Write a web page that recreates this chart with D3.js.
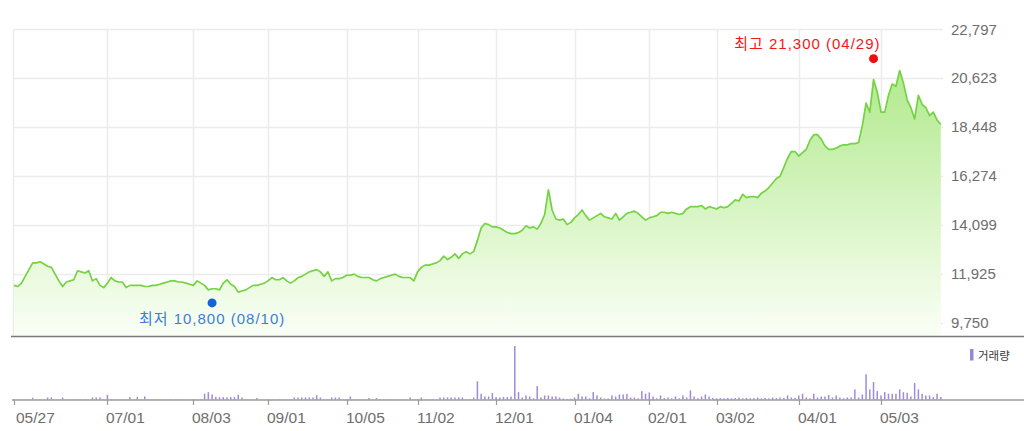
<!DOCTYPE html>
<html>
<head>
<meta charset="utf-8">
<script src="https://cdn.jsdelivr.net/npm/d3@7"></script>
<style>
  html, body { margin: 0; padding: 0; background: #fff; }
  svg { display: block; }
</style>
</head>
<body>
<svg id="chart" width="1024" height="431"></svg>
<script>
// ---------- DATA ----------
const prices = [
11400,11350,11500,11800,12100,12400,12400,12450,12350,12250,
12200,11900,11600,11350,11550,11600,11650,12050,12000,11950,
12050,11600,11700,11400,11300,11500,11750,11600,11550,11550,
11300,11400,11400,11400,11400,11350,11350,11400,11400,11450,
11500,11550,11600,11600,11550,11550,11500,11450,11400,11600,
11500,11400,11200,11250,11250,11200,11500,11650,11450,11350,
11100,11150,11200,11300,11400,11400,11450,11500,11600,11750,
11650,11650,11750,11600,11500,11600,11750,11800,11900,12000,
12050,12100,12000,11800,12000,11600,11700,11700,11750,11850,
11850,11900,11800,11750,11750,11750,11650,11600,11700,11750,
11800,11850,11900,11800,11750,11750,11750,11600,12000,12200,
12300,12300,12350,12400,12500,12700,12550,12650,12800,12600,
12800,12900,12800,12900,13400,13950,14150,14100,14000,14000,
13950,13850,13750,13700,13700,13750,13850,14050,13950,14000,
13900,14150,14550,15650,14750,14350,14300,14350,14100,14200,
14400,14550,14750,14500,14300,14400,14500,14600,14450,14400,
14350,14600,14300,14450,14600,14650,14700,14600,14450,14300,
14400,14450,14500,14650,14650,14600,14650,14600,14550,14600,
14800,14900,14900,14900,14950,14800,14900,14850,14800,14900,
14850,14900,15050,15200,15150,15450,15300,15350,15350,15300,
15500,15600,15750,15950,16150,16250,16650,17050,17350,17350,
17150,17300,17450,17850,18100,18100,17900,17600,17450,17450,
17500,17600,17650,17650,17700,17700,17750,18500,19500,19100,
20550,20000,19100,19100,19850,20350,20250,20950,20400,19650,
19300,18800,19850,19450,19300,18950,19100,18750,18550
];

// volume, thousand shares
const volumes = [
20,10,15,10,20,85,15,10,20,100,
100,15,10,100,15,10,20,15,10,20,
15,100,100,100,20,235,20,15,10,20,
15,120,20,120,15,150,20,10,15,20,
10,15,20,10,15,20,10,15,20,15,
20,285,365,250,130,110,120,110,120,120,
235,100,20,15,20,75,15,10,20,15,
10,20,15,10,20,100,100,100,100,100,
100,215,100,20,15,100,100,100,20,15,
150,20,15,10,20,75,15,75,20,10,
15,20,10,15,20,15,100,20,15,100,
20,15,20,10,100,100,100,100,100,100,
100,20,30,100,900,285,150,150,315,120,
100,130,120,140,2650,365,100,200,150,60,
665,100,200,200,150,150,100,50,30,40,
100,285,150,150,60,365,200,100,50,50,
200,150,250,250,275,100,100,60,415,285,
350,150,60,200,75,100,60,150,60,200,
100,450,150,60,150,250,150,80,60,70,
60,80,60,70,100,60,80,60,70,100,
60,80,60,100,70,100,80,200,100,80,
200,285,100,60,285,100,150,150,225,100,
200,100,60,100,100,500,100,250,1250,500,
865,415,200,365,285,285,285,500,365,335,
150,815,500,285,200,200,120,285,120
];

const tickLabels = ["05/27","07/01","08/03","09/01","10/05","11/02","12/01","01/04","02/01","03/02","04/01","05/03"];
const tickIndex  = [0, 25, 48, 68, 89, 108, 129, 150, 170, 188, 210, 232];

const yTickValues = [9750, 11925, 14099, 16274, 18448, 20623, 22797];

const highMark = { index: 230, value: 21300, label: "최고 21,300 (04/29)" };
const lowMark  = { index: 53,  value: 10800, label: "최저 10,800 (08/10)" };
const legendLabel = "거래량";

// ---------- LAYOUT ----------
const svg = d3.select("#chart");
const plotLeft = 13, plotRight = 943, plotTop = 29, plotBottom = 336.5;
const volBase = 399.5, volTop = 346;
const fontLatin = "'Liberation Sans', Arial, 'Noto Sans CJK KR', sans-serif";
const fontKr = "'Liberation Sans', 'Noto Sans CJK KR', sans-serif";

const x = d3.scaleLinear().domain([0, prices.length - 1]).range([14, 940.8]);
const y = d3.scaleLinear().domain([9750, 22797]).range([322.5, 29]);
const yv = d3.scaleLinear().domain([0, d3.max(volumes)]).range([volBase, volTop]);

svg.append("rect").attr("width", 1024).attr("height", 431).attr("fill", "#fff");

// gradient
const defs = svg.append("defs");
const grad = defs.append("linearGradient").attr("id", "fillGrad")
  .attr("gradientUnits", "userSpaceOnUse")
  .attr("x1", 0).attr("x2", 0).attr("y1", plotTop).attr("y2", plotBottom);
grad.append("stop").attr("offset", "0%").attr("stop-color", "#a6e67c");
grad.append("stop").attr("offset", "100%").attr("stop-color", "#fbfff7");

// grid
const grid = svg.append("g");
grid.selectAll("line.h").data(yTickValues).enter().append("line")
  .attr("x1", plotLeft).attr("x2", plotRight)
  .attr("y1", d => Math.round(y(d)) + 0.5).attr("y2", d => Math.round(y(d)) + 0.5)
  .attr("stroke", "#ececec").attr("stroke-width", 1.5);
grid.selectAll("line.v").data(tickIndex).enter().append("line")
  .attr("x1", d => d === 0 ? plotLeft + 0.5 : Math.round(x(d)) + 0.5)
  .attr("x2", d => d === 0 ? plotLeft + 0.5 : Math.round(x(d)) + 0.5)
  .attr("y1", plotTop).attr("y2", plotBottom)
  .attr("stroke", "#ececec").attr("stroke-width", 1.5);

// area + line
const area = d3.area().x((d, i) => x(i)).y0(plotBottom).y1(d => y(d));
svg.append("path").datum(prices).attr("d", area).attr("fill", "url(#fillGrad)");
const line = d3.line().x((d, i) => x(i)).y(d => y(d));
svg.append("path").datum(prices).attr("d", line)
  .attr("fill", "none").attr("stroke", "#74d243").attr("stroke-width", 1.7)
  .attr("stroke-linejoin", "round");

// separator
svg.append("line").attr("x1", 11).attr("x2", 1024)
  .attr("y1", plotBottom).attr("y2", plotBottom)
  .attr("stroke", "#7a7a7a").attr("stroke-width", 1.5);

// y axis labels (right)
svg.append("g").selectAll("text").data(yTickValues).enter().append("text")
  .attr("x", 951).attr("y", d => y(d) + 5.5)
  .attr("font-family", fontLatin).attr("font-size", 15)
  .attr("fill", "#6e6e6e")
  .text(d => d3.format(",")(d));

// annotations
svg.append("circle").attr("cx", x(highMark.index)).attr("cy", y(highMark.value) - 4)
  .attr("r", 4.5).attr("fill", "#f20d0d");
svg.append("text").attr("x", x(highMark.index) + 7).attr("y", 48.5)
  .attr("text-anchor", "end").attr("font-family", fontKr).attr("font-size", 15)
  .attr("letter-spacing", 1).attr("fill", "#f01818").text(highMark.label);

svg.append("circle").attr("cx", x(lowMark.index)).attr("cy", y(lowMark.value) + 4)
  .attr("r", 4.5).attr("fill", "#1463d8");
svg.append("text").attr("x", x(lowMark.index)).attr("y", 323.5)
  .attr("text-anchor", "middle").attr("font-family", fontKr).attr("font-size", 15)
  .attr("letter-spacing", 1).attr("fill", "#3b7ed6").text(lowMark.label);

// volume bars
svg.append("g").selectAll("rect").data(volumes).enter().append("rect")
  .attr("x", (d, i) => x(i) - 0.75).attr("width", 1.5)
  .attr("y", d => yv(d)).attr("height", d => volBase - yv(d))
  .attr("fill", "#a08ade");

// volume axis
svg.append("line").attr("x1", 12).attr("x2", 1024)
  .attr("y1", volBase + 0.5).attr("y2", volBase + 0.5)
  .attr("stroke", "#9a9a9a").attr("stroke-width", 1.5);
const xt = svg.append("g");
xt.selectAll("line").data(tickIndex).enter().append("line")
  .attr("x1", d => Math.round(x(d)) + 0.5).attr("x2", d => Math.round(x(d)) + 0.5)
  .attr("y1", volBase).attr("y2", volBase + 5.5)
  .attr("stroke", "#9a9a9a").attr("stroke-width", 1.2);
xt.selectAll("text").data(tickIndex).enter().append("text")
  .attr("x", (d, i) => Math.round(x(d)) + (i === 0 ? 2 : -1))
  .attr("y", 423)
  .attr("font-family", fontLatin).attr("font-size", 15.5)
  .attr("fill", "#6e6e6e")
  .text((d, i) => tickLabels[i]);

// legend
svg.append("rect").attr("x", 970).attr("y", 349).attr("width", 3.5).attr("height", 11.5)
  .attr("fill", "#9b85d6");
svg.append("text").attr("x", 978).attr("y", 359.5)
  .attr("font-family", "'Noto Sans CJK KR', sans-serif").attr("font-size", 11.5)
  .attr("fill", "#3a3a3a").text(legendLabel);
</script>
</body>
</html>
